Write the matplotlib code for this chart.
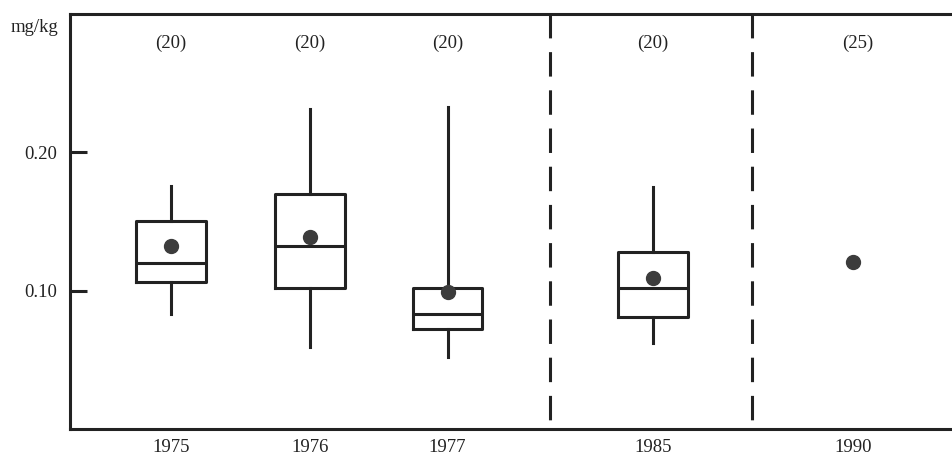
import matplotlib.pyplot as plt

plt.rcParams["font.family"] = ["Liberation Serif", "DejaVu Serif"]

years = ["1975", "1976", "1977", "1985", "1990"]
counts = ["(20)", "(20)", "(20)", "(20)", "(25)"]
# x positions along the axis (irregular spacing, as in the original)
xpos = [0.0, 1.0, 1.99, 3.47, 4.91]
count_x = [0.0, 1.0, 1.99, 3.47, 4.94]
dividers = [2.73, 4.18]

# box statistics for the first four years (mg/kg)
whislo = [0.083, 0.059, 0.052, 0.062]
q1 = [0.1065, 0.102, 0.072, 0.081]
med = [0.120, 0.132, 0.083, 0.102]
q3 = [0.150, 0.170, 0.102, 0.128]
whishi = [0.176, 0.231, 0.233, 0.175]
means = [0.132, 0.139, 0.099, 0.109, 0.121]

ink = "#222222"
dot = "#3c3c3c"


def main():
    fig = plt.figure(figsize=(9.52, 4.59), dpi=100)
    ax = fig.add_axes([70 / 952, 30 / 459, 882 / 952, 415 / 459])

    stats = []
    for i in range(4):
        stats.append(dict(whislo=whislo[i], q1=q1[i], med=med[i], q3=q3[i],
                          whishi=whishi[i], fliers=[], label=years[i]))
    ax.bxp(stats, positions=xpos[:4], widths=0.5, showcaps=False,
           showfliers=False,
           boxprops=dict(color=ink, lw=2.2),
           whiskerprops=dict(color=ink, lw=2.2),
           medianprops=dict(color=ink, lw=2.2))

    ax.plot(xpos, means, "o", color=dot, ms=10, zorder=5)

    for xd in dividers:
        ax.axvline(xd, color=ink, lw=2.2, ls=(-3, (8, 4.5)))

    for x, c in zip(count_x, counts):
        ax.text(x, 0.279, c, ha="center", va="center", fontsize=13.5,
                color=ink)

    ax.set_xlim(-0.727, 5.62)
    ax.set_ylim(0, 0.30)
    ax.set_xticks(xpos)
    ax.set_xticklabels(years, fontsize=13.5, color=ink)
    ax.tick_params(axis="x", length=0, pad=7)
    ax.set_yticks([0.10, 0.20])
    ax.set_yticklabels(["0.10", "0.20"], fontsize=13.5, color=ink)
    ax.tick_params(axis="y", direction="in", length=12, width=2.2,
                   color=ink, pad=9)

    for s in ["left", "bottom", "top"]:
        ax.spines[s].set_linewidth(2.2)
        ax.spines[s].set_color(ink)
    ax.spines["right"].set_visible(False)

    fig.text(58 / 952, 1 - 27 / 459, "mg/kg", ha="right", va="center",
             fontsize=13.5, color=ink)

    fig.savefig("out.png", dpi=100)
    plt.close(fig)


if __name__ == "__main__":
    main()
